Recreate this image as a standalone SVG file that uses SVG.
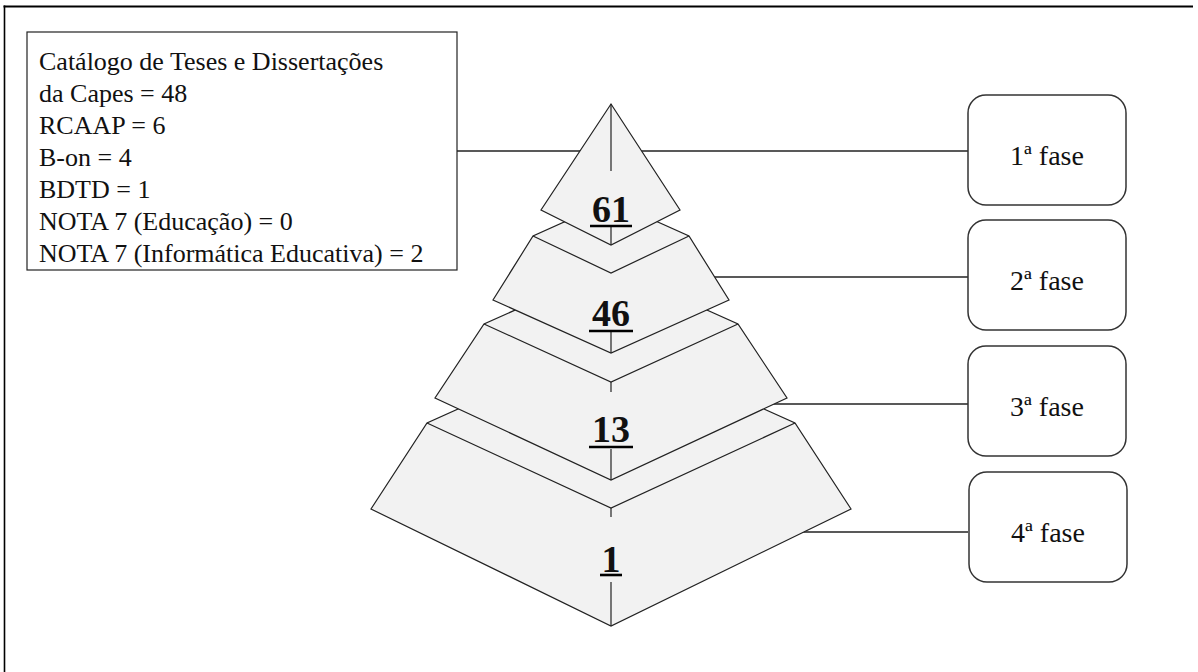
<svg xmlns="http://www.w3.org/2000/svg" width="1198" height="672" viewBox="0 0 1198 672">
<style>
.frame{stroke:#000;fill:none}
.box{fill:#fff;stroke:#222;stroke-width:1.2}
.phase{fill:#fff;stroke:#333;stroke-width:1.5}
.lvl{fill:#f2f2f2;stroke:#222;stroke-width:1.2;stroke-linejoin:miter}
.edge{fill:none;stroke:#222;stroke-width:1.2}
.conn{fill:none;stroke:#222;stroke-width:1.3}
.t{font-family:"Liberation Serif","Times New Roman",serif;fill:#111}
.list{font-size:26px}
.ph{font-size:28px;text-anchor:middle}
.num{font-size:38px;font-weight:bold;text-anchor:middle}
.ul{stroke:#000;stroke-width:2.6}
</style>
<rect width="1198" height="672" fill="#fff"/>
<line class="frame" x1="3.5" y1="6.5" x2="1193" y2="6.5" stroke-width="2.2"/>
<line class="frame" x1="4.5" y1="5.5" x2="4.5" y2="672" stroke-width="1.6"/>

<g id="connectors">
<line class="conn" x1="457" y1="151" x2="968" y2="151"/>
<line class="conn" x1="700" y1="277" x2="968" y2="277"/>
<line class="conn" x1="760" y1="404" x2="968" y2="404"/>
<line class="conn" x1="790" y1="532" x2="968" y2="532"/>
</g>

<g id="sources">
<rect class="box" x="27" y="32" width="430" height="238"/>
<text class="t list" x="39" y="70">Catálogo de Teses e Dissertações</text>
<text class="t list" x="39" y="102">da Capes = 48</text>
<text class="t list" x="39" y="134">RCAAP = 6</text>
<text class="t list" x="39" y="166">B-on = 4</text>
<text class="t list" x="39" y="198">BDTD = 1</text>
<text class="t list" x="39" y="230">NOTA 7 (Educação) = 0</text>
<text class="t list" x="39" y="262">NOTA 7 (Informática Educativa) = 2</text>
</g>

<g id="level4">
<polygon class="lvl" points="611,340 795,423 851,509 611,626 371,509 427,423"/>
<polyline class="edge" points="427,423 611,508 795,423"/>
<line class="edge" x1="611" y1="508" x2="611" y2="517"/>
<line class="edge" x1="611" y1="582" x2="611" y2="626"/>
<text class="t num" x="611" y="572">1</text>
<line class="ul" x1="600" y1="575" x2="622" y2="575"/>
</g>

<g id="level3">
<polygon class="lvl" points="611,267 738,324 787,398 611,480 435,398 484,324"/>
<polyline class="edge" points="484,324 611,382 738,324"/>
<line class="edge" x1="611" y1="382" x2="611" y2="392"/>
<line class="edge" x1="611" y1="449" x2="611" y2="480"/>
<text class="t num" x="611" y="442">13</text>
<line class="ul" x1="589" y1="447" x2="633" y2="447"/>
</g>

<g id="level2">
<polygon class="lvl" points="611,201 689,236 729,300 611,353 493,300 533,236"/>
<polyline class="edge" points="533,236 611,273 689,236"/>
<line class="edge" x1="611" y1="332" x2="611" y2="353"/>
<text class="t num" x="611" y="326">46</text>
<line class="ul" x1="589" y1="331" x2="633" y2="331"/>
</g>

<g id="level1">
<polygon class="lvl" points="611,104 680,210 611,245 541,210"/>
<line class="edge" x1="611" y1="104" x2="611" y2="171"/>
<line class="edge" x1="611" y1="227" x2="611" y2="245"/>
<text class="t num" x="611" y="222">61</text>
<line class="ul" x1="590" y1="226" x2="632" y2="226"/>
</g>

<g id="phase1">
<rect class="phase" x="968" y="95" width="158" height="110" rx="18"/>
<text class="t ph" x="1047" y="165">1ª fase</text>
</g>
<g id="phase2">
<rect class="phase" x="968" y="220" width="158" height="110" rx="18"/>
<text class="t ph" x="1047" y="290">2ª fase</text>
</g>
<g id="phase3">
<rect class="phase" x="968" y="346" width="158" height="110" rx="18"/>
<text class="t ph" x="1047" y="416">3ª fase</text>
</g>
<g id="phase4">
<rect class="phase" x="969" y="472" width="158" height="110" rx="18"/>
<text class="t ph" x="1048" y="542">4ª fase</text>
</g>
</svg>
